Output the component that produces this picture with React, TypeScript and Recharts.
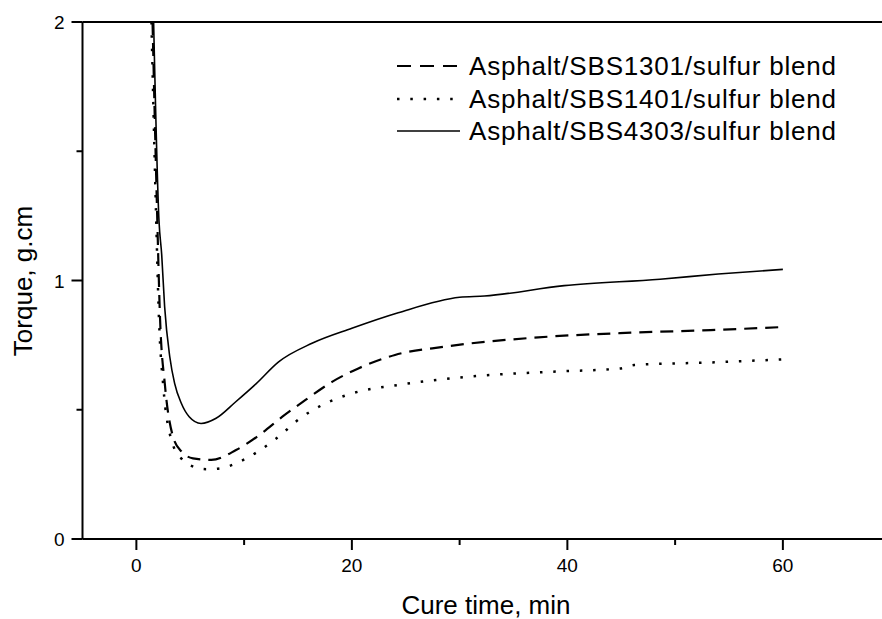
import React from 'react'
import { LineChart, Line, XAxis, YAxis, ReferenceLine, Label } from 'recharts'

// cure time (min) and torque (g.cm)
const t1301 = [1.5, 1.9, 2.2, 2.64, 3.4, 4.2, 5.25, 6.95, 9.25, 11.4, 13.55, 15.7, 18.2, 20.6, 24.0, 28.6, 37.3, 45.9, 53.3, 60]
const v1301 = [2.0, 1.3, 0.85, 0.6, 0.396, 0.338, 0.312, 0.306, 0.344, 0.402, 0.473, 0.538, 0.609, 0.66, 0.712, 0.744, 0.78, 0.798, 0.808, 0.82]

const t1401 = [1.4, 1.8, 2.1, 2.5, 3.25, 4.2, 4.94, 6.48, 7.7, 10.2, 12.9, 15.4, 17.9, 20.6, 24.3, 30.8, 38.5, 45.0, 46.2, 53.3, 60]
const v1401 = [2.0, 1.3, 0.85, 0.59, 0.383, 0.31, 0.286, 0.27, 0.273, 0.312, 0.386, 0.473, 0.531, 0.57, 0.596, 0.628, 0.647, 0.66, 0.673, 0.683, 0.695]

const t4303 = [1.6, 2.1, 2.35, 2.62, 3.1, 3.55, 4.17, 4.9, 6.0, 7.4, 9.2, 11.1, 13.2, 16.3, 20.0, 24.3, 30.0, 32.3, 39.7, 48.6, 54, 60]
const v4303 = [2.0, 1.23, 1.1, 0.9, 0.705, 0.602, 0.525, 0.473, 0.447, 0.467, 0.53, 0.6, 0.685, 0.757, 0.815, 0.875, 0.935, 0.94, 0.98, 1.005, 1.025, 1.043]

const xTicks = [0, 10, 20, 30, 40, 50, 60]
const yTicks = [0, 0.5, 1, 1.5, 2]

const FONT = '"Liberation Sans", Arial, Helvetica, sans-serif'

const toRows = (ts: number[], vs: number[]) => ts.map((t, i) => ({ t, v: vs[i] }))

const series = [
  { name: 'Asphalt/SBS1301/sulfur blend', data: toRows(t1301, v1301), dash: '13 8', legendDash: '14 9', width: 2.2 },
  { name: 'Asphalt/SBS1401/sulfur blend', data: toRows(t1401, v1401), dash: '2.5 10.8', legendDash: '2.5 10.8', width: 2.5 },
  { name: 'Asphalt/SBS4303/sulfur blend', data: toRows(t4303, v4303), dash: undefined, legendDash: undefined, width: 1.6 },
]

function XTick({ x, y, payload }: any) {
  const major = payload.value % 20 === 0
  return (
    <g>
      <line x1={x} x2={x} y1={y} y2={y + (major ? 11 : 6)} stroke="#000" strokeWidth={2} />
      {major && (
        <text x={x} y={y + 33} textAnchor="middle" fontSize={19} fontFamily={FONT} fill="#000">
          {payload.value}
        </text>
      )}
    </g>
  )
}

function YTick({ x, y, payload }: any) {
  const major = Number.isInteger(payload.value)
  return (
    <g>
      <line x1={x} x2={x - (major ? 11 : 6)} y1={y} y2={y} stroke="#000" strokeWidth={2} />
      {major && (
        <text x={x - 18} y={y + 7} textAnchor="end" fontSize={19} fontFamily={FONT} fill="#000">
          {payload.value}
        </text>
      )}
    </g>
  )
}

export default function App() {
  return (
    <div style={{ position: 'absolute', left: 0, top: 0, width: 882, height: 619, background: '#fff' }}>
      <LineChart width={882} height={619} margin={{ top: 22, right: 0, bottom: 0, left: 0 }}>
        <XAxis
          type="number"
          dataKey="t"
          domain={[-5, 69.2]}
          allowDataOverflow
          ticks={xTicks}
          height={80}
          tickSize={0}
          tickMargin={0}
          tickLine={false}
          tick={<XTick />}
          axisLine={{ stroke: '#000', strokeWidth: 2 }}
        >
          <Label
            content={() => (
              <text x={486} y={614} textAnchor="middle" fontSize={26} fontFamily={FONT} fill="#000">
                Cure time, min
              </text>
            )}
          />
        </XAxis>
        <YAxis
          type="number"
          dataKey="v"
          domain={[0, 2]}
          allowDataOverflow
          ticks={yTicks}
          width={82.5}
          tickSize={0}
          tickMargin={0}
          tickLine={false}
          tick={<YTick />}
          axisLine={{ stroke: '#000', strokeWidth: 2 }}
        >
          <Label
            content={() => (
              <text
                x={32}
                y={281}
                transform="rotate(-90 32 281)"
                textAnchor="middle"
                fontSize={26}
                fontFamily={FONT}
                fill="#000"
              >
                Torque, g.cm
              </text>
            )}
          />
        </YAxis>
        <ReferenceLine y={2} stroke="#000" strokeWidth={2} />
        {series.map(s => (
          <Line
            key={s.name}
            data={s.data}
            dataKey="v"
            name={s.name}
            type="monotone"
            stroke="#000"
            strokeWidth={s.width}
            strokeDasharray={s.dash}
            dot={false}
            activeDot={false}
            isAnimationActive={false}
          />
        ))}
      </LineChart>

      {/* legend */}
      <div style={{ position: 'absolute', left: 396, top: 50, fontFamily: FONT }}>
        {series.map(s => (
          <div key={s.name} style={{ display: 'flex', alignItems: 'center', height: 32.5 }}>
            <svg width={64} height={10} style={{ marginRight: 9 }}>
              <line
                x1={1}
                x2={s.dash ? 62 : 64}
                y1={5}
                y2={5}
                stroke="#000"
                strokeWidth={s.width}
                strokeDasharray={s.legendDash}
              />
            </svg>
            <span style={{ fontSize: 26, lineHeight: '32.5px', letterSpacing: 0.8, color: '#000', whiteSpace: 'nowrap' }}>
              {s.name}
            </span>
          </div>
        ))}
      </div>
    </div>
  )
}
